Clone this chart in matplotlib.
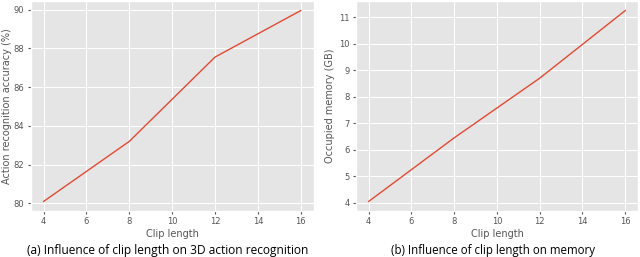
import matplotlib
matplotlib.use("Agg")
import matplotlib.pyplot as plt

plt.style.use("ggplot")

clip_length = [4, 8, 12, 16]
accuracy = [80.1, 83.2, 87.55, 89.95]
memory = [4.05, 6.45, 8.7, 11.25]

captions = ["(a) Influence of clip length on 3D action recognition",
            "(b) Influence of clip length on memory"]

fig = plt.figure(figsize=(6.4, 2.57), dpi=100)
fig.patch.set_facecolor("white")

ax1 = fig.add_axes([0.048, 0.179, 0.442, 0.817])
ax2 = fig.add_axes([0.556, 0.179, 0.441, 0.817])

ax1.plot(clip_length, accuracy, color="#E24A33", linewidth=1.0)
ax1.set_ylabel("Action recognition accuracy (%)", fontsize=7, color="#555555", labelpad=1)
ax1.set_yticks([80, 82, 84, 86, 88, 90])

ax2.plot(clip_length, memory, color="#E24A33", linewidth=1.0)
ax2.set_ylabel("Occupied memory (GB)", fontsize=7, color="#555555", labelpad=3)
ax2.set_yticks([4, 5, 6, 7, 8, 9, 10, 11])

for ax in (ax1, ax2):
    ax.set_xlabel("Clip length", fontsize=7, color="#555555", labelpad=2)
    ax.set_xticks([4, 6, 8, 10, 12, 14, 16])
    ax.tick_params(labelsize=6, colors="#555555", length=2.5, pad=2)
    ax.grid(True, color="white", linewidth=0.8)

fig.text(0.262, 0.027, captions[0], ha="center", va="center",
         fontsize=8.6, family=["Open Sans", "DejaVu Sans"], color="black")
fig.text(0.770, 0.027, captions[1], ha="center", va="center",
         fontsize=8.3, family=["Open Sans", "DejaVu Sans"], color="black")

fig.savefig("out.png", dpi=100)
